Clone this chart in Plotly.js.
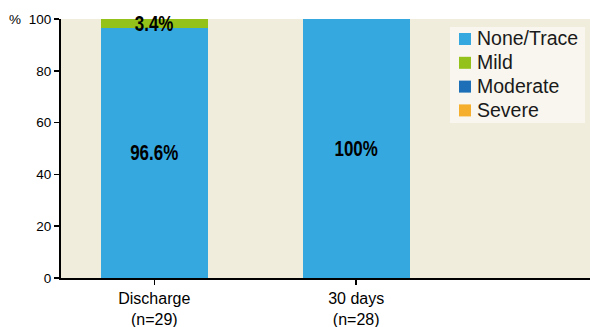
<!DOCTYPE html>
<html>
<head>
<meta charset="utf-8">
<script src="https://cdn.plot.ly/plotly-3.0.1.min.js"></script>
<style>
  html, body { margin: 0; padding: 0; background: #ffffff; }
  #chart { width: 590px; height: 327px; }
  /* narrow the bold segment labels around their own centre */
  #chart g.annotation text.annotation-text {
    transform-box: fill-box; transform-origin: center; transform: scaleX(0.77);
  }
  /* the unit label (last annotation) keeps its normal width */
  #chart g.annotation:last-of-type text.annotation-text { transform: none; }
  /* larger legend type, pulled in closer to its swatch */
  .legendtext { font-size: 19.5px !important; }
  #chart .legendtext { transform: translateX(-8px); }
</style>
</head>
<body>
<div id="chart"></div>
<script>
// Regurgitation grade at each follow-up visit (% of patients)
const categories = ['Discharge<br>(n=29)', '30 days<br>(n=28)'];
const noneTrace = [96.6, 100];
const mild = [3.4, 0];
const moderate = [0, 0];
const severe = [0, 0];

const seriesNames = ['None/Trace', 'Mild', 'Moderate', 'Severe'];
const seriesValues = [noneTrace, mild, moderate, severe];
const seriesColors = ['#35A8DF', '#94C11A', '#1D70B7', '#F6AE2D'];

const sans = '"Liberation Sans", Arial, sans-serif';

const traces = seriesNames.map((name, i) => ({
  type: 'bar',
  name: name,
  x: categories,
  y: seriesValues[i],
  width: 0.53,
  marker: { color: seriesColors[i], line: { width: 0 } },
  hoverinfo: 'skip'
}));

// Value labels placed at the middle of each non-empty segment
const annotations = [];
categories.forEach((cat, c) => {
  let base = 0;
  seriesValues.forEach((vals) => {
    const v = vals[c];
    if (v > 0) {
      annotations.push({
        x: cat, y: base + v / 2, xref: 'x', yref: 'y',
        text: '<b>' + v + '%</b>', showarrow: false,
        font: { family: sans, size: 22, color: '#000000' }
      });
    }
    base += v;
  });
});

// Unit label level with the top tick, left of the value axis
annotations.push({
  x: (15 - 61) / 529, y: 1, xref: 'paper', yref: 'paper',
  xanchor: 'center', yanchor: 'middle',
  text: '%', showarrow: false,
  font: { family: sans, size: 13.5, color: '#000000' }
});

const layout = {
  width: 590, height: 327,
  margin: { l: 61, r: 0, t: 19, b: 49, autoexpand: false },
  paper_bgcolor: '#ffffff',
  plot_bgcolor: '#F0EDDC',
  barmode: 'stack',
  showlegend: true,
  hovermode: false,
  xaxis: {
    range: [-0.462, 2.158],
    showgrid: false, zeroline: false,
    showline: true, linecolor: '#000000', linewidth: 2,
    ticks: 'outside', ticklen: 5, tickwidth: 1.5, tickcolor: '#000000',
    tickfont: { family: sans, size: 16, color: '#000000' }
  },
  yaxis: {
    range: [0, 100],
    tickvals: [0, 20, 40, 60, 80, 100],
    showgrid: false, zeroline: false,
    showline: true, linecolor: '#000000', linewidth: 2,
    ticks: 'outside', ticklen: 5, tickwidth: 1.5, tickcolor: '#000000',
    tickfont: { family: sans, size: 13.5, color: '#000000' }
  },
  legend: {
    x: (445 - 61) / 529, y: 0.988, xanchor: 'left', yanchor: 'top',
    bgcolor: 'rgba(0,0,0,0)', borderwidth: 0,
    font: { family: sans, size: 16, color: '#1a1a1a' },
    traceorder: 'normal'
  },
  // pale panel behind the legend entries
  shapes: [{
    type: 'rect', xref: 'paper', yref: 'paper', layer: 'below',
    x0: (450 - 61) / 529, x1: (585 - 61) / 529,
    y0: 1 - (123 - 19) / 259, y1: 1 - (27 - 19) / 259,
    fillcolor: '#F8F6EE', line: { width: 0 }
  }],
  annotations: annotations
};

Plotly.newPlot('chart', traces, layout, { displayModeBar: false, staticPlot: true });
</script>
</body>
</html>
